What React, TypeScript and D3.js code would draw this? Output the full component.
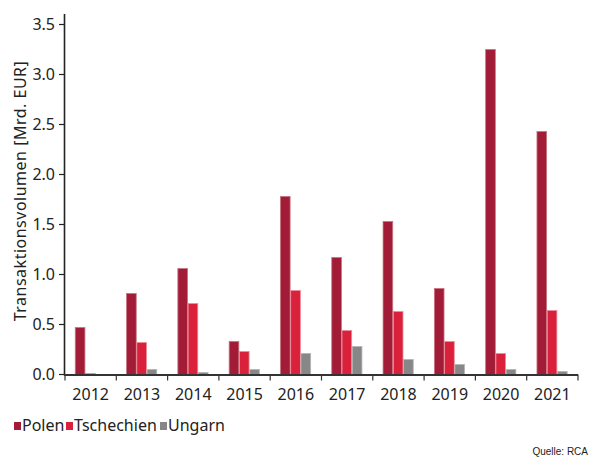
import { useRef, useEffect } from 'react'
import * as d3 from 'd3'

const years = ['2012', '2013', '2014', '2015', '2016', '2017', '2018', '2019', '2020', '2021']
const seriesNames = ['Polen', 'Tschechien', 'Ungarn']
const polen = [0.47, 0.81, 1.06, 0.33, 1.78, 1.17, 1.53, 0.86, 3.25, 2.43]
const tschechien = [0.01, 0.32, 0.71, 0.23, 0.84, 0.44, 0.63, 0.33, 0.21, 0.64]
const ungarn = [0, 0.05, 0.02, 0.05, 0.21, 0.28, 0.15, 0.1, 0.05, 0.03]
const yTicks = [0, 0.5, 1.0, 1.5, 2.0, 2.5, 3.0, 3.5]

const fills = ['#a21c38', '#d9213b', '#878787']
const strokes = ['#c9737f', '#ec8d98', '#b5b5b5']
const font = '"Noto Sans", sans-serif'

export default function App() {
  const svgRef = useRef<SVGSVGElement>(null)

  useEffect(() => {
    if (!svgRef.current) return
    const svg = d3.select(svgRef.current)
    svg.selectAll('*').remove()

    const values = [polen, tschechien, ungarn]
    const left = 65
    const right = 578
    const bottom = 374.5

    const x = d3.scaleBand<string>().domain(years).range([left, right]).paddingInner(0.4).paddingOuter(0.2)
    const xStep = d3.scaleBand<string>().domain(years).range([left, right])
    const xs = d3.scaleBand<string>().domain(seriesNames).range([0, x.bandwidth()])
    const y = d3.scaleLinear().domain([0, 3.6]).range([bottom, 14.5])

    // bars
    seriesNames.forEach((name, si) => {
      svg.append('g')
        .selectAll('rect')
        .data(values[si])
        .join('rect')
        .attr('x', (_, i) => (x(years[i]) ?? 0) + (xs(name) ?? 0))
        .attr('y', (d) => y(d))
        .attr('width', xs.bandwidth() - 0.6)
        .attr('height', (d) => bottom - y(d))
        .attr('fill', fills[si])
        .attr('stroke', strokes[si])
        .attr('stroke-width', 0.8)
    })

    // y axis
    const ya = svg.append('g')
    ya.append('line').attr('x1', left - 0.5).attr('x2', left - 0.5).attr('y1', 14).attr('y2', bottom + 1)
      .attr('stroke', '#222').attr('stroke-width', 1.6)
    yTicks.forEach((t) => {
      ya.append('line').attr('x1', left - 6).attr('x2', left).attr('y1', y(t)).attr('y2', y(t))
        .attr('stroke', '#222').attr('stroke-width', 1.2)
      ya.append('text').attr('x', left - 10).attr('y', y(t)).attr('dy', '0.35em')
        .attr('text-anchor', 'end').attr('font-family', font).attr('font-size', 16).attr('fill', '#222')
        .text(t.toFixed(1))
    })

    // x axis
    const xa = svg.append('g')
    xa.append('line').attr('x1', left - 1).attr('x2', right).attr('y1', bottom + 0.5).attr('y2', bottom + 0.5)
      .attr('stroke', '#333').attr('stroke-width', 1.8)
    const boundaries = years.map((yr) => xStep(yr) ?? 0).concat([right])
    boundaries.forEach((bx) => {
      xa.append('line').attr('x1', bx).attr('x2', bx).attr('y1', bottom).attr('y2', bottom + 6)
        .attr('stroke', '#333').attr('stroke-width', 1.2)
    })
    years.forEach((yr) => {
      xa.append('text').attr('x', (xStep(yr) ?? 0) + xStep.bandwidth() / 2).attr('y', 400)
        .attr('text-anchor', 'middle').attr('font-family', font).attr('font-size', 16).attr('fill', '#222')
        .text(yr)
    })

    // y title
    svg.append('text')
      .attr('transform', 'translate(26,191) rotate(-90)')
      .attr('text-anchor', 'middle').attr('font-family', font).attr('font-size', 16)
      .attr('letter-spacing', 0.5).attr('fill', '#222')
      .text('Transaktionsvolumen [Mrd. EUR]')

    // legend
    const legendX = [14, 66, 160]
    seriesNames.forEach((name, i) => {
      svg.append('rect').attr('x', legendX[i]).attr('y', 422).attr('width', 7).attr('height', 8)
        .attr('fill', fills[i])
      svg.append('text').attr('x', legendX[i] + 8).attr('y', 431)
        .attr('font-family', font).attr('font-size', 16).attr('fill', '#222')
        .text(name)
    })

    svg.append('text').attr('x', 588).attr('y', 455).attr('text-anchor', 'end')
      .attr('font-family', '"Liberation Sans", Arial, sans-serif').attr('font-size', 10).attr('fill', '#222')
      .text('Quelle: RCA')
  }, [])

  return (
    <svg ref={svgRef} width={590} height={457} style={{ position: 'absolute', left: 0, top: 0, background: '#fff' }} />
  )
}
